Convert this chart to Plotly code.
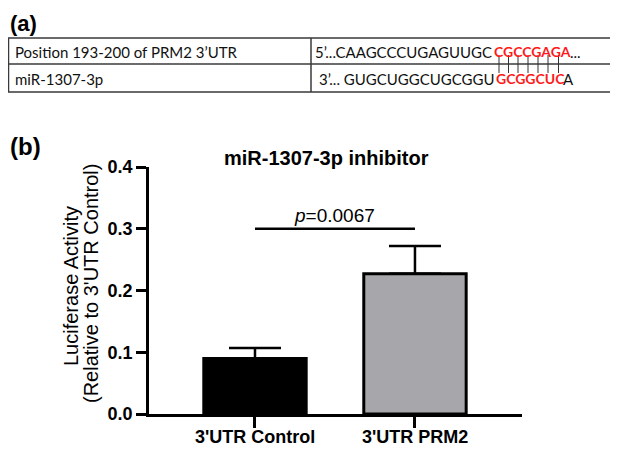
import plotly.graph_objects as go

# ---- data ----
categories = ["3'UTR Control", "3'UTR PRM2"]
values = [0.090, 0.227]
errors = [0.017, 0.045]
bar_colors = ["#000000", "#a7a7ab"]
y_ticks = [0.0, 0.1, 0.2, 0.3, 0.4]
p_label = "<i>p</i>=0.0067"
title_text = "miR-1307-3p inhibitor"
y_title_lines = ["Luciferase Activity", "(Relative to 3'UTR Control)"]
table_left = ["Position 193-200 of PRM2 3’UTR", "miR-1307-3p"]

# the page body adds an 8px offset; size the figure to fill the rest of the 618x450 view
OFF = 8
W, H = 618 - OFF, 450 - OFF
L, R, T, B = 149 - OFF, 96, 167 - OFF, 36
PW, PH = W - L - R, H - T - B


def px(sx):
    return (sx - OFF - L) / PW


def py(sy):
    return (H - B - (sy - OFF)) / PH


ARIAL = "Liberation Sans, Arial, sans-serif"
CAL = "Lato, Carlito, Calibri, sans-serif"

fig = go.Figure()
fig.add_trace(go.Bar(
    x=categories, y=values, width=0.64,
    marker=dict(color=bar_colors, line=dict(color="black", width=3)),
    error_y=dict(type="data", array=errors, arrayminus=[0, 0], symmetric=False,
                 color="black", thickness=2.5, width=26),
    showlegend=False,
))

shapes = []
annotations = []


def ann(x, y, text, font, xanchor="center", yanchor="middle", **kw):
    d = dict(x=px(x), y=py(y), xref="paper", yref="paper", text=text, showarrow=False,
             xanchor=xanchor, yanchor=yanchor, font=font)
    d.update(kw)
    annotations.append(d)


# category labels under the axis (placed on the category scale)
for c in categories:
    annotations.append(dict(x=c, y=0, xref="x", yref="y", text="<b>" + c + "</b>", showarrow=False,
                            xanchor="center", yanchor="middle", yshift=-23,
                            font=dict(family=ARIAL, size=18, color="black")))

# significance bracket
shapes.append(dict(type="line", xref="x", yref="y", x0=0, x1=1, y0=0.3, y1=0.3,
                   line=dict(color="black", width=2.5)))
annotations.append(dict(x=0.5, y=0.3, xref="x", yref="y", text=p_label, showarrow=False,
                        xanchor="center", yanchor="bottom", yshift=1,
                        font=dict(family=ARIAL, size=19, color="black")))

# title
ann(326, 158, "<b>" + title_text + "</b>", dict(family=ARIAL, size=20, color="black"))
# y-axis title (two lines)
ann(71, 286, y_title_lines[0], dict(family=ARIAL, size=20, color="black"), textangle=-90)
ann(91, 284, y_title_lines[1], dict(family=ARIAL, size=20, color="black"), textangle=-90)
# panel labels
ann(8, 147, "<b>(b)</b>", dict(family=ARIAL, size=24, color="black"), xanchor="left")
ann(8, 23, "<b>(a)</b>", dict(family=ARIAL, size=22, color="black"), xanchor="left")

# table
tl, tr, tt, tb, tm, tdiv = 8.5, 616, 38, 92, 64, 311
lc = dict(color="#3a3a3a", width=1.5)
shapes.append(dict(type="rect", xref="paper", yref="paper", x0=px(tl), x1=px(tr), y0=py(tt), y1=py(tb), line=lc))
shapes.append(dict(type="line", xref="paper", yref="paper", x0=px(tl), x1=px(tr), y0=py(tm), y1=py(tm), line=lc))
shapes.append(dict(type="line", xref="paper", yref="paper", x0=px(tdiv), x1=px(tdiv), y0=py(tt), y1=py(tb), line=lc))

row_y = [51.5, 79]
tf = dict(family=CAL, size=15, color="#111111")
tfr = dict(family=CAL, size=14, color="#ff1a1a")
for i, t in enumerate(table_left):
    ann(13, row_y[i], t, tf, xanchor="left")

# row 1 sequence
ann(494, row_y[0], "5’...CAAGCCCUGAGUUGC", tf, xanchor="right")
ann(492, row_y[0], "<b>CGCCGAGA</b>", tfr, xanchor="left")
ann(568, row_y[0], "...", tf, xanchor="left")
# row 2 sequence
ann(496, row_y[1], "3’... GUGCUGGCUGCGGU", tf, xanchor="right")
ann(494, row_y[1], "<b>GCGGCUC</b>", tfr, xanchor="left")
ann(561, row_y[1], "A", tf, xanchor="left")
# pairing lines
for xx in [499, 508.5, 518, 528, 538, 548, 558.5]:
    shapes.append(dict(type="line", xref="paper", yref="paper", x0=px(xx), x1=px(xx), y0=py(55), y1=py(73),
                       line=dict(color="#333333", width=1)))

fig.update_layout(
    width=W, height=H,
    margin=dict(l=L, r=R, t=T, b=B, pad=0, autoexpand=False),
    paper_bgcolor="white", plot_bgcolor="white",
    shapes=shapes, annotations=annotations,
    xaxis=dict(type="category", range=[-0.6625, 1.669], showline=True, linecolor="black", linewidth=2.5,
               ticks="outside", ticklen=11, tickwidth=2.5, tickcolor="black", automargin=False,
               showticklabels=False, tickvals=categories,
               showgrid=False, zeroline=False, fixedrange=True),
    yaxis=dict(range=[0, 0.4], tickvals=y_ticks, ticktext=["<b>%.1f</b>" % v for v in y_ticks],
               showline=True, linecolor="black", linewidth=2.5, automargin=False,
               ticks="outside", ticklen=10, tickwidth=2.5, tickcolor="black",
               tickfont=dict(family=ARIAL, size=18, color="black"),
               showgrid=False, zeroline=False, fixedrange=True),
)

fig.write_html("out.html")
